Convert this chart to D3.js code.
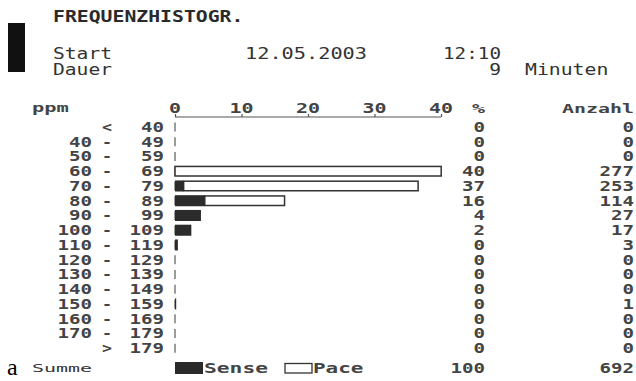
<!DOCTYPE html>
<html><head><meta charset="utf-8">
<script src="https://cdn.jsdelivr.net/npm/d3@7"></script>
<style>body{margin:0;background:#fff;overflow:hidden}</style>
</head><body><svg id="c" width="636" height="381"></svg>
<script>
// ---- data ----
const categories = ["<40","40-49","50-59","60-69","70-79","80-89","90-99","100-109","110-119","120-129","130-139","140-149","150-159","160-169","170-179",">179"];
const lowLabels  = ["","40","50","60","70","80","90","100","110","120","130","140","150","160","170",""];
const sepLabels  = ["<","-","-","-","-","-","-","-","-","-","-","-","-","-","-",">"];
const highLabels = ["40","49","59","69","79","89","99","109","119","129","139","149","159","169","179","179"];
const senseCounts = [0,0,0,0,9,31,27,17,3,0,0,0,1,0,0,0];
const paceCounts  = [0,0,0,277,244,83,0,0,0,0,0,0,0,0,0,0];
const percentLabels = ["0","0","0","40","37","16","4","2","0","0","0","0","0","0","0","0"];
const countLabels   = ["0","0","0","277","253","114","27","17","3","0","0","0","1","0","0","0"];
const xTicks = [0,10,20,30,40];
const totalCount = 692;
const totalPercent = "100";
const title = "FREQUENZHISTOGR.";
const startDate = "12.05.2003", startTime = "12:10", duration = "9", durationUnit = "Minuten";

// ---- drawing ----
const svg = d3.select("#c");
const mono = "'DejaVu Sans Mono', monospace";
const x = d3.scaleLinear().domain([0,40]).range([175,441]);
const y = d3.scaleBand().domain(categories).range([119.6,355.6]).paddingInner(0.25).paddingOuter(0.125);

function txt(s, xp, yp, o){
  o = o||{};
  const pitch = o.pitch || 11.5;
  return svg.append("text")
    .attr("x",xp).attr("y",yp).text(s)
    .attr("font-family", o.family||mono)
    .attr("font-size", o.size||14)
    .attr("font-weight", o.weight||"bold")
    .attr("text-anchor", o.anchor||"start")
    .attr("textLength", s.length*pitch)
    .attr("lengthAdjust","spacingAndGlyphs")
    .attr("fill", o.fill||"#444");
}

// left black marker
svg.append("rect").attr("x",8).attr("y",23).attr("width",17).attr("height",49).attr("fill","#111");

// header
txt(title, 53, 22, {size:15, pitch:11.9, fill:"#2a2a2a"});
const hdr = {size:15, weight:"normal", pitch:11.8, fill:"#333"};
txt("Start", 53, 58.5, hdr);
txt("Dauer", 53, 75, hdr);
txt(startDate, 245, 58.5, Object.assign({}, hdr, {pitch:12.2}));
txt(startTime, 443, 58.5, Object.assign({}, hdr, {pitch:11.6}));
txt(duration, 501, 75, Object.assign({anchor:"end"}, hdr));
txt(durationUnit, 525, 75, Object.assign({}, hdr, {pitch:11.9}));

// table header
txt("ppm", 32, 112, {size:13, pitch:12.3});
xTicks.forEach(t => txt(String(t), x(t), 113, {anchor:"middle", pitch:12}));
txt("%", 485, 113, {anchor:"end", size:13, pitch:13});
txt("Anzahl", 634, 113, {anchor:"end", size:13, pitch:12});

// axis
const axis = d3.axisTop(x).tickValues(xTicks).tickSize(3).tickFormat("");
const ag = svg.append("g").attr("transform","translate(0,117)").call(axis);
ag.select(".domain").attr("stroke","#555").attr("stroke-width",1.2).attr("d","M175,0H441");
ag.selectAll(".tick line").attr("stroke","#555").attr("stroke-width",1.2);

// rows
categories.forEach((c,i) => {
  const base = y(c) + y.bandwidth()/2 + 5;
  if(lowLabels[i]) txt(lowLabels[i], 92, base, {anchor:"end"});
  txt(sepLabels[i], 107, base, {anchor:"middle", pitch:10});
  txt(highLabels[i], 164, base, {anchor:"end"});
  txt(percentLabels[i], 485, base, {anchor:"end"});
  txt(countLabels[i], 634, base, {anchor:"end"});
});

// baseline ticks for each row
svg.append("g").selectAll("line").data(categories).join("line")
  .attr("x1",x(0)).attr("x2",x(0))
  .attr("y1",d=>y(d)+1).attr("y2",d=>y(d)+y.bandwidth()-1)
  .attr("stroke","#666").attr("stroke-width",1.3);

// pace bars (outline), stacked after sense
const pct = v => v/totalCount*100;
svg.append("g").selectAll("rect").data(categories.map((c,i)=>({c,s:senseCounts[i],p:paceCounts[i]})).filter(d=>d.p>0))
  .join("rect")
  .attr("x",d=>x(pct(d.s))).attr("width",d=>x(pct(d.s+d.p))-x(pct(d.s)))
  .attr("y",d=>y(d.c)+0.75).attr("height",y.bandwidth()-1.5)
  .attr("fill","#fff").attr("stroke","#333").attr("stroke-width",1.5);

// sense bars
svg.append("g").selectAll("rect").data(categories.map((c,i)=>({c,s:senseCounts[i]})).filter(d=>d.s>0))
  .join("rect")
  .attr("x",x(0)).attr("width",d=>Math.max(1.2,x(pct(d.s))-x(0)))
  .attr("y",d=>y(d.c)).attr("height",y.bandwidth())
  .attr("fill","#2b2b2b");

// footer
svg.append("text").attr("x",7).attr("y",375).text("a")
  .attr("font-family","'Liberation Serif', serif").attr("font-size",24).attr("fill","#000");
txt("Summe", 32, 372, {size:11, pitch:12, weight:"normal", fill:"#333"});
svg.append("rect").attr("x",175).attr("y",362).attr("width",28).attr("height",12).attr("fill","#2b2b2b");
txt("Sense", 204, 373, {pitch:12.8});
svg.append("rect").attr("x",285).attr("y",363.5).attr("width",27).attr("height",9.5).attr("fill","#fff").attr("stroke","#333").attr("stroke-width",1.3);
txt("Pace", 313, 373, {pitch:12.6});
txt(totalPercent, 485, 373, {anchor:"end"});
txt(String(totalCount), 634, 373, {anchor:"end"});
</script></body></html>
